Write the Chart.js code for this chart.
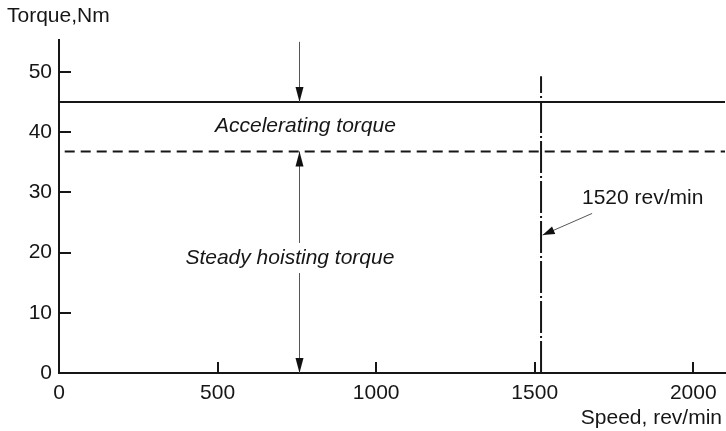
<!DOCTYPE html>
<html><head><meta charset="utf-8">
<script src="https://cdn.jsdelivr.net/npm/chart.js@4.4.1/dist/chart.umd.min.js"></script>
<style>html,body{margin:0;padding:0;background:#fff}canvas{display:block}</style>
</head><body>
<canvas id="c" width="726" height="431"></canvas>
<script>
// ---- data ----
const speedRange = [0, 2100];
const accelTorque = [45, 45];
const steadySpeed = [18, 2100];
const steadyTorque = [36.8, 36.8];
const ratedSpeed = [1520, 1520];
const ratedTorqueSpan = [0, 49.3];
const xTicks = [0, 500, 1000, 1500, 2000];
const yTicks = [0, 10, 20, 30, 40, 50];
const arrowSpeed = 757;
const accelArrow = [55, 45];          // from, to (tip)
const steadyArrowUp = [21.6, 36.8];   // from, to (tip)
const steadyArrowDown = [16.6, 0];    // from, to (tip)
const noteArrowSpeed = [1681, 1525];  // from, to (tip)
const noteArrowTorque = [26.5, 22.9];
const labelTexts = ['Accelerating torque', 'Steady hoisting torque', '1520 rev/min'];
const labelSpeed = [777, 728, 1649];
const labelTorque = [41.0, 19.1, 29.0];
const xTitle = 'Speed, rev/min';
const yTitle = 'Torque,Nm';

const FONT = '"Liberation Sans", Arial, Helvetica, sans-serif';
const INK = '#161616';

function pts(xs, ys){ return xs.map((v,i)=>({x:v, y:ys[i]})); }

function arrow(ctx, x1, y1, x2, y2, len, half){
  ctx.beginPath(); ctx.moveTo(x1,y1); ctx.lineTo(x2,y2); ctx.stroke();
  const a = Math.atan2(y2-y1, x2-x1);
  const bx = x2 - len*Math.cos(a), by = y2 - len*Math.sin(a);
  const nx = -Math.sin(a)*half, ny = Math.cos(a)*half;
  ctx.beginPath(); ctx.moveTo(x2,y2); ctx.lineTo(bx+nx,by+ny); ctx.lineTo(bx-nx,by-ny); ctx.closePath(); ctx.fill();
}

const deco = {
  id:'deco',
  afterDatasetsDraw(chart){
    const {ctx, scales:{x, y}} = chart;
    ctx.save();
    // inward tick marks
    ctx.strokeStyle = INK; ctx.lineWidth = 2; ctx.setLineDash([]);
    xTicks.forEach(v=>{ if(v===0) return; const px = Math.round(x.getPixelForValue(v));
      ctx.beginPath(); ctx.moveTo(px, y.bottom); ctx.lineTo(px, y.bottom-11); ctx.stroke(); });
    yTicks.forEach(v=>{ if(v===0) return; const py = Math.round(y.getPixelForValue(v));
      ctx.beginPath(); ctx.moveTo(x.left, py); ctx.lineTo(x.left+12, py); ctx.stroke(); });
    // arrows
    ctx.strokeStyle = '#555'; ctx.fillStyle = '#111'; ctx.lineWidth = 1;
    const ax = Math.round(x.getPixelForValue(arrowSpeed)) + 0.5;
    arrow(ctx, ax, y.getPixelForValue(accelArrow[0]), ax, y.getPixelForValue(accelArrow[1]), 15, 4);
    arrow(ctx, ax, y.getPixelForValue(steadyArrowUp[0]), ax, y.getPixelForValue(steadyArrowUp[1]), 15, 4);
    arrow(ctx, ax, y.getPixelForValue(steadyArrowDown[0]), ax, y.getPixelForValue(steadyArrowDown[1]), 15, 4);
    arrow(ctx, x.getPixelForValue(noteArrowSpeed[0]), y.getPixelForValue(noteArrowTorque[0]),
               x.getPixelForValue(noteArrowSpeed[1]), y.getPixelForValue(noteArrowTorque[1]), 12, 4);
    // labels
    ctx.fillStyle = INK; ctx.textBaseline = 'middle';
    labelTexts.forEach((t,i)=>{
      const italic = i < 2;
      ctx.font = (italic ? 'italic ' : '') + '21px ' + FONT;
      ctx.textAlign = italic ? 'center' : 'left';
      ctx.fillText(t, x.getPixelForValue(labelSpeed[i]), y.getPixelForValue(labelTorque[i]));
    });
    // axis titles
    ctx.font = '21px ' + FONT;
    ctx.textAlign = 'left';
    ctx.fillText(yTitle, 7, 16);
    ctx.textAlign = 'right';
    ctx.fillText(xTitle, 722, 418);
    ctx.restore();
  }
};

new Chart(document.getElementById('c'), {
  type: 'line',
  data: {
    datasets: [
      { data: pts(speedRange, accelTorque), borderColor: INK, borderWidth: 2, pointRadius: 0 },
      { data: pts(steadySpeed, steadyTorque), borderColor: INK, borderWidth: 2, borderDash: [10, 6], pointRadius: 0 },
      { data: pts(ratedSpeed, ratedTorqueSpan), borderColor: INK, borderWidth: 2, borderDash: [32, 3, 2, 3], pointRadius: 0 }
    ]
  },
  options: {
    responsive: false,
    animation: false,
    devicePixelRatio: 1,
    layout: { padding: { top: 40, right: 1, left: 0, bottom: 0 } },
    plugins: { legend: { display: false }, tooltip: { enabled: false } },
    elements: { line: { tension: 0 } },
    scales: {
      x: {
        type: 'linear', min: 0, max: 2100,
        afterBuildTicks: s => { s.ticks = xTicks.map(v=>({value:v})); },
        afterFit: s => { s.height = 58; },
        grid: { drawOnChartArea: false, drawTicks: false },
        border: { display: true, color: INK, width: 2 },
        ticks: { color: INK, padding: 8, maxRotation: 0, autoSkip: false,
                 callback: v => String(v), font: { family: FONT, size: 21 } }
      },
      y: {
        type: 'linear', min: 0, max: 55.3,
        afterBuildTicks: s => { s.ticks = yTicks.map(v=>({value:v})); },
        afterFit: s => { s.width = 59; },
        grid: { drawOnChartArea: false, drawTicks: false },
        border: { display: true, color: INK, width: 2 },
        ticks: { color: INK, padding: 7, autoSkip: false,
                 callback: v => String(v), font: { family: FONT, size: 21 } }
      }
    }
  },
  plugins: [deco]
});
</script>
</body></html>
